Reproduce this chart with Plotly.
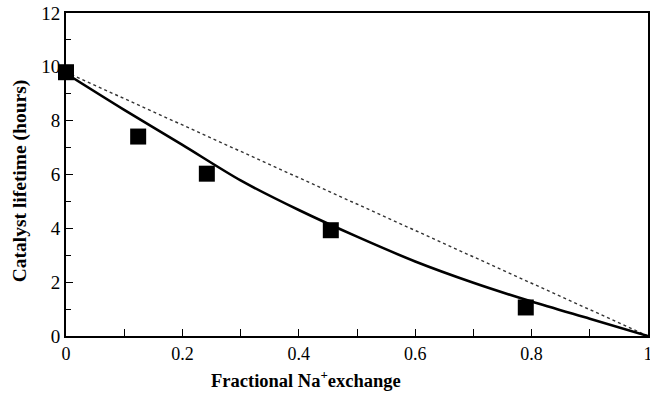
import plotly.graph_objects as go

# Measured data (squares)
exch = [0.0, 0.124, 0.242, 0.455, 0.79]
life = [9.8, 7.41, 6.03, 3.93, 1.06]

# Model curve (solid)
curve_x = [0.0, 0.1, 0.2, 0.3, 0.4, 0.5, 0.6, 0.7, 0.8, 0.9, 1.0]
curve_y = [9.75, 8.4, 7.1, 5.78, 4.68, 3.69, 2.77, 1.98, 1.28, 0.64, 0.0]

# Linear reference line (dotted)
lin_x = [0.0, 1.0]
lin_y = [9.8, 0.0]

x_ticks = [0, 0.2, 0.4, 0.6, 0.8, 1]
x_labels = ["0", "0.2", "0.4", "0.6", "0.8", "1"]
y_ticks = [0, 2, 4, 6, 8, 10, 12]

SERIF = "Liberation Serif"

fig = go.Figure()
fig.add_trace(go.Scatter(x=lin_x, y=lin_y, mode="lines",
                         line=dict(color="#333", width=1.4, dash="dot"),
                         showlegend=False))
fig.add_trace(go.Scatter(x=curve_x, y=curve_y, mode="lines",
                         line=dict(color="black", width=2.6, shape="spline", smoothing=0.8),
                         showlegend=False))
fig.add_trace(go.Scatter(x=exch, y=life, mode="markers",
                         marker=dict(symbol="square", size=16, color="black"),
                         cliponaxis=False, showlegend=False))

fig.update_layout(
    width=650, height=393,
    margin=dict(l=66, r=2, t=13, b=57, autoexpand=False),
    paper_bgcolor="white", plot_bgcolor="white",
    font=dict(family=SERIF, size=18, color="black"),
    xaxis=dict(range=[0, 1], tickmode="array",
               tickvals=x_ticks, ticktext=x_labels,
               tickfont=dict(family=SERIF, size=18, color="black"),
               ticklabeloverflow="allow",
               ticks="inside", ticklen=7, tickwidth=1.2, tickcolor="black",
               minor=dict(dtick=0.1, ticks="inside", ticklen=7, tickcolor="black"),
               showline=True, linecolor="black", linewidth=2, mirror=True,
               showgrid=False, zeroline=False, automargin=False),
    yaxis=dict(range=[0, 12], tickmode="array",
               tickvals=y_ticks,
               tickfont=dict(family=SERIF, size=19, color="black"),
               ticklabeloverflow="allow",
               ticks="inside", ticklen=7, tickwidth=1.2, tickcolor="black",
               minor=dict(dtick=1, ticks="inside", ticklen=5, tickcolor="black"),
               showline=True, linecolor="black", linewidth=2, mirror=True,
               showgrid=False, zeroline=False, automargin=False),
    annotations=[
        dict(text="<b>Fractional Na<sup>+</sup>exchange</b>",
             xref="paper", yref="paper", x=0.412, y=-0.133,
             xanchor="center", yanchor="middle", showarrow=False,
             font=dict(family=SERIF, size=18.5, color="black")),
        dict(text="<b>Catalyst lifetime (hours)</b>",
             xref="paper", yref="paper", x=-0.079, y=0.479, textangle=-90,
             xanchor="center", yanchor="middle", showarrow=False,
             font=dict(family=SERIF, size=19.5, color="black")),
    ],
)
fig.write_html("out.html", config={"displayModeBar": False},
               post_script="document.body.style.margin='0';")
